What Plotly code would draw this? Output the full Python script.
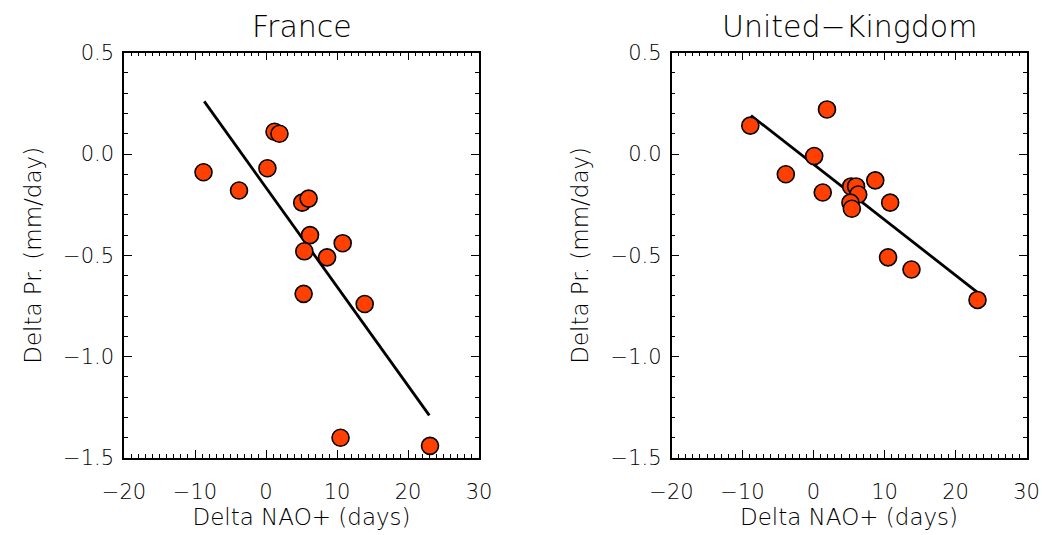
import plotly.graph_objects as go

# France data (Delta NAO+ days, Delta Pr. mm/day)
fr_x = [-8.8, -3.8, 0.2, 1.2, 1.9, 5.1, 6.0, 6.2, 5.4, 8.6, 10.8, 5.3, 13.9, 10.5, 23.1]
fr_y = [-0.09, -0.18, -0.07, 0.11, 0.10, -0.24, -0.22, -0.40, -0.48, -0.51, -0.44, -0.69, -0.74, -1.40, -1.44]
fr_fit_x = [-8.7, 23.0]
fr_fit_y = [0.26, -1.29]

# United-Kingdom data
uk_x = [-8.9, 1.9, 0.1, -3.9, 1.3, 5.3, 6.0, 6.3, 5.2, 5.4, 8.7, 10.8, 10.5, 13.8, 23.1]
uk_y = [0.14, 0.22, -0.01, -0.10, -0.19, -0.16, -0.16, -0.20, -0.24, -0.27, -0.13, -0.24, -0.51, -0.57, -0.72]
uk_fit_x = [-8.8, 23.0]
uk_fit_y = [0.19, -0.68]

titles = ["France", "United\u2212Kingdom"]
x_title = "Delta NAO+ (days)"
y_title = "Delta Pr. (mm/day)"
x_range = [-20, 30]
y_range = [-1.5, 0.5]

FONT = "DejaVu Sans"
TXT = "#000000"
W = 300
MARK = "#FF4000"

fig = go.Figure()
for i, (xs, ys, fx, fy) in enumerate([(fr_x, fr_y, fr_fit_x, fr_fit_y),
                                      (uk_x, uk_y, uk_fit_x, uk_fit_y)]):
    xa = "x" if i == 0 else "x2"
    ya = "y" if i == 0 else "y2"
    fig.add_trace(go.Scatter(x=fx, y=fy, mode="lines", xaxis=xa, yaxis=ya,
                             line=dict(color="black", width=2.8), showlegend=False))
    fig.add_trace(go.Scatter(x=xs, y=ys, mode="markers", xaxis=xa, yaxis=ya,
                             marker=dict(size=17, color=MARK,
                                         line=dict(color="black", width=1.6)),
                             showlegend=False))

ax_common = dict(showgrid=False, zeroline=False, showline=True, linecolor="black",
                 linewidth=1.5, mirror="allticks", ticks="inside", ticklen=8,
                 tickwidth=1.3, tickcolor="black", automargin=False,
                 tickfont=dict(family=FONT, size=21, color=TXT, weight=W))

xdoms = [[124 / 1042, 479 / 1042], [671.5 / 1042, 1026.5 / 1042]]
ydom = [1 - 458 / 535, 1 - 52.7 / 535]
for i in range(2):
    sfx = "" if i == 0 else "2"
    fig.layout["xaxis" + sfx] = dict(
        ax_common, domain=xdoms[i], range=x_range, dtick=10, tick0=0,
        anchor="y" + sfx, ticklabelstandoff=14,
        minor=dict(ticks="inside", dtick=1, ticklen=4, tickwidth=1, tickcolor="black"),
        title=dict(text=x_title, font=dict(family=FONT, size=23, color=TXT, weight=W), standoff=5))
    fig.layout["yaxis" + sfx] = dict(
        ax_common, domain=ydom, range=y_range, dtick=0.5, tick0=0,
        anchor="x" + sfx, tickformat=".1f", ticklabelstandoff=4,
        minor=dict(ticks="inside", dtick=0.1, ticklen=4, tickwidth=1, tickcolor="black"),
        title=dict(text=y_title, font=dict(family=FONT, size=23, color=TXT, weight=W), standoff=15))
    fig.add_annotation(text=titles[i], xref="paper", yref="paper",
                       x=sum(xdoms[i]) / 2, y=1 - 26 / 535, xanchor="center", yanchor="middle",
                       showarrow=False, font=dict(family=FONT, size=30, color=TXT, weight=W))

fig.update_layout(width=1042, height=535, margin=dict(l=0, r=0, t=0, b=0),
                  plot_bgcolor="white", paper_bgcolor="white")
fig.write_html("out.html", config={"displayModeBar": False},
               post_script="document.body.style.margin='0px';document.body.style.overflow='hidden';")
